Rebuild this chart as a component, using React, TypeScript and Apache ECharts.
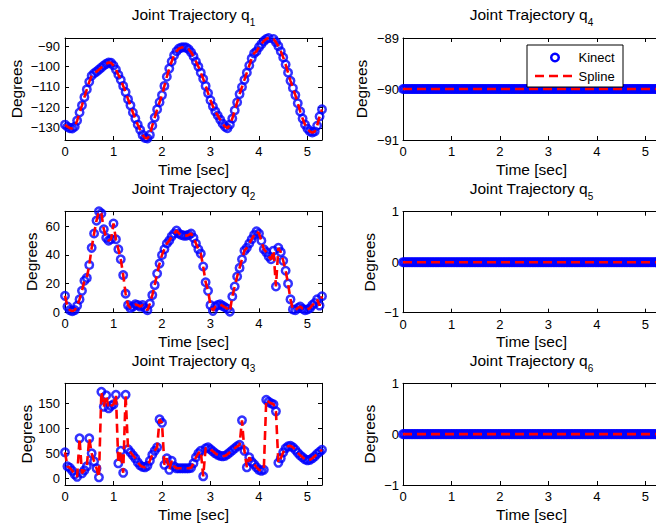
import React, { useEffect, useRef } from 'react';
import * as echarts from 'echarts';

// sampling of the Kinect stream (seconds)
const DT = 0.05;
const T_MAX = 5.3;
// the constant joints are drawn with a finer sampling (Kinect frame rate)
const DT_CONST = 1 / 30;

// Joint trajectories (degrees), one value every DT seconds
const Q1_KINECT = [
  -128.5, -129.5, -130.2, -130.3, -129.5, -126.5, -122.5, -119, -115, -111.2,
  -107.5, -104.5, -103.3, -102.5, -101.5, -100.5, -99.5, -98.7, -98, -98.2,
  -99.5, -101.5, -104, -106.5, -109.5, -112.5, -116, -119, -122.5, -125.5,
  -128.5, -131, -133.5, -135, -135.2, -133.5, -129, -125, -121, -117.5,
  -114, -109.5, -105, -101, -97.5, -94.5, -92.5, -91.2, -90.7, -90.5,
  -90.7, -91.5, -93, -95, -97.5, -100, -103, -106, -109.5, -113,
  -116.5, -119.5, -122, -124, -126, -128, -129.5, -130.2, -128.5, -125.5,
  -121.5, -117.5, -113.5, -110, -106.5, -103, -99.5, -96, -93.5, -92.5,
  -90.5, -89, -87.5, -86.5, -86, -85.8, -86.5, -88, -90, -92.5,
  -95.5, -99, -103, -107, -110.5, -114, -118, -122, -125.5, -128.5,
  -130.5, -131.8, -132.3, -131.8, -129, -124.5, -121,
];

const Q2_KINECT = [
  11.5, 4, 1.5, 0.8, 1.5, 4.5, 9, 15, 22, 24,
  33, 45, 55, 64, 70.5, 69, 58, 52, 50, 51,
  62, 51, 44, 37, 26, 13, 5, 3, 4, 5.5,
  5, 4, 5, 3, 1.5, 6, 12, 19, 27, 34,
  40, 44, 48, 50, 53, 55, 57, 55, 54, 53.5,
  53.5, 54, 55, 52, 48, 44, 41, 32, 21, 15,
  5, 1, 4, 5, 5.5, 4.5, 3.5, 2.5, 0.5, 11,
  18, 25, 31, 37, 43, 45, 48, 51, 54, 56.5,
  55, 50, 44, 42, 39, 37, 43, 18, 45, 42,
  36, 29, 20, 9, 2, 1.5, 3, 4, 2.5, 1.5,
  2, 2.8, 5, 6.5, 9, 4.7, 11.2,
];

const Q3_KINECT = [
  52, 24, 21, 15, 8, 3, 80, 10, 16, 24,
  80, 50, 34, 20, 2, 173, 143, 166, 140, 145,
  148, 167, 30, 55, 11, 167, 58, 52, 46, 40,
  32, 26, 23, 22, 25, 35, 47, 55, 62, 118,
  111, 27, 40, 17, 35, 24, 20, 20, 20, 20,
  20, 20, 21, 30, 42, 50, 55, 4, 60, 62,
  58, 54, 50, 47, 45, 44, 45, 48, 52, 56,
  60, 64, 67, 116, 55, 22, 42, 33, 28, 22,
  17, 15, 17, 157, 153, 150, 148, 134, 31, 40,
  52, 60, 64, 65, 62, 57, 51, 46, 42, 38,
  36, 37, 40, 44, 49, 53, 57,
];

// joints 4-6 stay at a constant angle
const Q4_LEVEL = -90;
const Q5_LEVEL = 0;
const Q6_LEVEL = 0;

const X_TICKS = [0, 1, 2, 3, 4, 5];
const Y_TICKS = [
  [-130, -120, -110, -100, -90],
  [0, 20, 40, 60],
  [0, 50, 100, 150],
  [-91, -90, -89],
  [-1, 0, 1],
  [-1, 0, 1],
];
const Y_RANGES = [
  [-136, -86],
  [0, 70.5],
  [-13.4, 190],
  [-91, -89],
  [-1, 1],
  [-1, 1],
];
const JOINT_NUMBERS = ['1', '2', '3', '4', '5', '6'];
const LEGEND_LABELS = ['Kinect', 'Spline'];

const FONT = '"Liberation Sans", Arial, Helvetica, sans-serif';
const W = 257;
const GRIDS = [
  { left: 65, top: 38, height: 102, nameGap: 41 },
  { left: 65, top: 211.3, height: 101, nameGap: 26 },
  { left: 65, top: 383.3, height: 101.7, nameGap: 30 },
  { left: 403, top: 38, height: 102, nameGap: 34 },
  { left: 403, top: 211.7, height: 101, nameGap: 25.5 },
  { left: 403, top: 383.3, height: 101.7, nameGap: 26 },
];

function toPairs(values: number[]) {
  return values.map((v, i) => [Math.round(i * DT * 1000) / 1000, v]);
}
function constantSeries(level: number) {
  const n = Math.floor(T_MAX / DT_CONST + 1e-6) + 1;
  const out: number[][] = [];
  for (let i = 0; i < n; i++) out.push([Math.round(i * DT_CONST * 1000) / 1000, level]);
  return out;
}

const minus = (v: number) => String(v).replace('-', '\u2212');

function buildOption() {
  const kinect = [
    toPairs(Q1_KINECT),
    toPairs(Q2_KINECT),
    toPairs(Q3_KINECT),
    constantSeries(Q4_LEVEL),
    constantSeries(Q5_LEVEL),
    constantSeries(Q6_LEVEL),
  ];
  const grid: any[] = [];
  const xAxis: any[] = [];
  const yAxis: any[] = [];
  const series: any[] = [];
  const graphic: any[] = [];
  const line = { show: true, onZero: false, lineStyle: { color: '#000', width: 1 } };
  const tickStyle = { color: '#000', width: 1 };

  GRIDS.forEach((g, i) => {
    grid.push({
      left: g.left,
      top: g.top,
      width: W,
      height: g.height,
      containLabel: false,
      outerBoundsMode: 'none',
    });
    const [ymin, ymax] = Y_RANGES[i];
    const xBase = {
      type: 'value',
      gridIndex: i,
      min: 0,
      max: T_MAX,
      axisLine: line,
      splitLine: { show: false },
      axisTick: { show: true, inside: true, length: 4, customValues: X_TICKS, lineStyle: tickStyle },
    };
    xAxis.push({
      ...xBase,
      position: 'bottom',
      name: 'Time [sec]',
      nameLocation: 'middle',
      nameGap: 21,
      nameTextStyle: { fontSize: 15.5, fontFamily: FONT, color: '#000' },
      axisLabel: { customValues: X_TICKS, margin: 5, fontSize: 13, fontFamily: FONT, color: '#000' },
    });
    xAxis.push({ ...xBase, position: 'top', axisLabel: { show: false } });

    const yBase = {
      type: 'value',
      gridIndex: i,
      min: ymin,
      max: ymax,
      axisLine: line,
      splitLine: { show: false },
      axisTick: { show: true, inside: true, length: 4, customValues: Y_TICKS[i], lineStyle: tickStyle },
    };
    yAxis.push({
      ...yBase,
      position: 'left',
      name: 'Degrees',
      nameLocation: 'middle',
      nameGap: g.nameGap,
      nameTextStyle: { fontSize: 15.5, fontFamily: FONT, color: '#000' },
      axisLabel: {
        customValues: Y_TICKS[i],
        margin: i < 3 ? 5 : 4,
        fontSize: 13,
        fontFamily: FONT,
        color: '#000',
        formatter: minus,
      },
    });
    yAxis.push({ ...yBase, position: 'right', axisLabel: { show: false } });

    series.push({
      type: 'scatter',
      name: LEGEND_LABELS[0],
      xAxisIndex: 2 * i,
      yAxisIndex: 2 * i,
      data: kinect[i],
      symbol: 'circle',
      symbolSize: 7.5,
      itemStyle: { color: 'rgba(0,0,0,0)', borderColor: '#0000ff', borderWidth: 2.5 },
      silent: true,
      clip: true,
      z: 2,
    });
    series.push({
      type: 'line',
      name: LEGEND_LABELS[1],
      xAxisIndex: 2 * i,
      yAxisIndex: 2 * i,
      data: kinect[i],
      symbol: 'none',
      showSymbol: false,
      lineStyle: { color: '#ff0000', width: 2.6, type: [9, 5] },
      silent: true,
      clip: true,
      z: 3,
    });

    graphic.push({
      type: 'text',
      x: g.left + W / 2,
      y: g.top - 23.3,
      z: 100,
      style: {
        text: `{a|Joint Trajectory q}{s|${JOINT_NUMBERS[i]}}`,
        align: 'center',
        verticalAlign: 'middle',
        rich: {
          a: { fontSize: 15.5, lineHeight: 26.6, fontFamily: FONT, fill: '#000' },
          s: { fontSize: 10, lineHeight: 10, verticalAlign: 'bottom', fontFamily: FONT, fill: '#000' },
        },
      },
    });
  });

  // legend in the q4 panel
  graphic.push(
    {
      type: 'rect',
      z: 200,
      shape: { x: 527, y: 45, width: 96, height: 42 },
      style: { fill: '#fff', stroke: '#000', lineWidth: 1 },
    },
    {
      type: 'circle',
      z: 201,
      shape: { cx: 555, cy: 57.5, r: 3.8 },
      style: { fill: 'none', stroke: '#0000ff', lineWidth: 2.5 },
    },
    {
      type: 'text',
      z: 201,
      x: 578.5,
      y: 57.5,
      style: { text: LEGEND_LABELS[0], fontSize: 13, fontFamily: FONT, fill: '#000', align: 'left', verticalAlign: 'middle' },
    },
    {
      type: 'line',
      z: 201,
      shape: { x1: 535, y1: 76, x2: 575, y2: 76 },
      style: { stroke: '#ff0000', lineWidth: 2.6, lineDash: [9, 5] },
    },
    {
      type: 'text',
      z: 201,
      x: 578.5,
      y: 76,
      style: { text: LEGEND_LABELS[1], fontSize: 13, fontFamily: FONT, fill: '#000', align: 'left', verticalAlign: 'middle' },
    }
  );

  return {
    animation: false,
    backgroundColor: '#ffffff',
    grid,
    xAxis,
    yAxis,
    series,
    graphic,
  };
}

export default function App() {
  const ref = useRef<HTMLDivElement>(null);
  useEffect(() => {
    if (!ref.current) return;
    const chart = echarts.init(ref.current, undefined, { renderer: 'svg' });
    chart.setOption(buildOption() as any);
    return () => chart.dispose();
  }, []);
  return (
    <div
      ref={ref}
      style={{ position: 'fixed', left: 0, top: 0, width: 656, height: 526, background: '#fff' }}
    />
  );
}
